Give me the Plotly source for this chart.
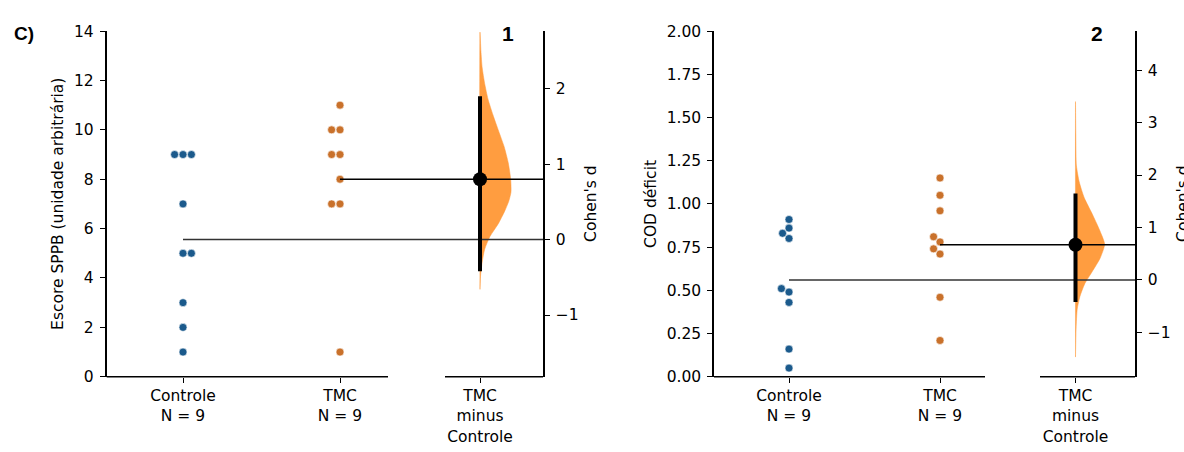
import math
import plotly.graph_objects as go

# ---------------- data ----------------
groups = ["Controle", "TMC"]
delta_label = "TMC<br>minus<br>Controle"

# Panel 1 : Escore SPPB
p1_control = [1, 2, 3, 5, 5, 7, 9, 9, 9]
p1_tmc = [1, 7, 7, 8, 9, 9, 10, 10, 11]
p1_d = 0.80
p1_ci = [-0.42, 1.90]
p1_violin_d = [2.75, 2.50, 2.28, 2.07, 1.86, 1.65, 1.44, 1.23, 1.02, 0.80,
               0.63, 0.51, 0.38, 0.21, 0.04, -0.13, -0.30, -0.47, -0.66]
p1_violin_dens = [0.0, 0.03, 0.07, 0.15, 0.26, 0.42, 0.60, 0.78, 0.91, 0.99,
                  1.0, 0.93, 0.80, 0.59, 0.32, 0.15, 0.07, 0.02, 0.0]
p1_yticks = [0, 2, 4, 6, 8, 10, 12, 14]
p1_dticks = [-1, 0, 1, 2]

# Panel 2 : COD deficit
p2_control = [0.05, 0.16, 0.43, 0.49, 0.51, 0.80, 0.83, 0.86, 0.91]
p2_tmc = [0.21, 0.46, 0.71, 0.74, 0.78, 0.81, 0.96, 1.05, 1.15]
p2_d = 0.67
p2_ci = [-0.42, 1.65]
p2_violin_d = [3.40, 2.79, 2.18, 1.87, 1.57, 1.27, 0.96, 0.68, 0.41, 0.17,
               -0.07, -0.32, -0.56, -0.92, -1.47]
p2_violin_dens = [0.0, 0.01, 0.03, 0.12, 0.28, 0.53, 0.77, 0.94, 0.79, 0.55,
                  0.30, 0.14, 0.055, 0.02, 0.0]
p2_yticks = [0.0, 0.25, 0.5, 0.75, 1.0, 1.25, 1.5, 1.75, 2.0]
p2_dticks = [-1, 0, 1, 2, 3, 4]

# ---------------- layout constants (page pixels) ----------------
FW, FH = 1184, 452
Y_TOP, Y_BOT = 23, 383
BLUE = "#1b5a8c"
ORANGE = "#c9712b"
VIOLIN = "rgb(255,157,64)"
FONT = "DejaVu Sans"
DOT = 8
SWARM_D = 8.4
VIOLIN_W = 31

panels = [
    dict(ctrl=p1_control, test=p1_tmc, d=p1_d, ci=p1_ci, vd=p1_violin_d, vw=p1_violin_dens,
         yticks=p1_yticks, dticks=p1_dticks, yrange=[0, 14], fmt="d",
         x0=106.5, x1=543, seg1=388, seg2=445, pos=[183, 340, 480],
         prefer=[1, -1], ytitle="Escore SPPB (unidade arbitrária)", ytitle_x=58,
         dtitle_x=591, label="1", label_x=508),
    dict(ctrl=p2_control, test=p2_tmc, d=p2_d, ci=p2_ci, vd=p2_violin_d, vw=p2_violin_dens,
         yticks=p2_yticks, dticks=p2_dticks, yrange=[0, 2], fmt=".2f",
         x0=714, x1=1135, seg1=985, seg2=1040, pos=[789, 940, 1075.5],
         prefer=[-1, -1], ytitle="COD déficit", ytitle_x=651,
         dtitle_x=1183, label="2", label_x=1097),
]


def swarm(values, px_per_unit, diam, prefer):
    order = sorted(range(len(values)), key=lambda i: values[i])
    placed = []
    offs = [0.0] * len(values)
    for i in order:
        y = values[i] * px_per_unit
        cands = [0.0]
        for ox, oy in placed:
            dy = y - oy
            if abs(dy) < diam:
                dx = math.sqrt(diam ** 2 - dy ** 2)
                cands += [ox + dx, ox - dx]
        cands.sort(key=lambda c: (round(abs(c), 4), 0 if c * prefer >= 0 else 1))
        for c in cands:
            if all(math.hypot(c - ox, y - oy) >= diam - 0.05 for ox, oy in placed):
                offs[i] = c
                placed.append((c, y))
                break
    return offs


def py(p):  # page pixel y (from top) -> paper fraction
    return (FH - p) / FH


def px(p):  # page pixel x -> paper fraction
    return p / FW


fig = go.Figure()
shapes = []
annotations = []
ydom = [py(Y_BOT), py(Y_TOP)]

for k, P in enumerate(panels):
    n = k + 1
    xa = "x" if n == 1 else "x2"
    ya = "y" if n == 1 else "y3"
    yd = "y2" if n == 1 else "y4"
    xkey = "xaxis" if n == 1 else "xaxis2"
    yakey = "yaxis" if n == 1 else "yaxis3"
    ydkey = "yaxis2" if n == 1 else "yaxis4"

    ctrl_mean = sum(P["ctrl"]) / len(P["ctrl"])
    test_mean = sum(P["test"]) / len(P["test"])
    scale = (test_mean - ctrl_mean) / P["d"]  # raw units per Cohen's d unit
    drange = [(P["yrange"][0] - ctrl_mean) / scale, (P["yrange"][1] - ctrl_mean) / scale]
    ppu = (Y_BOT - Y_TOP) / (P["yrange"][1] - P["yrange"][0])

    # raw swarm dots
    for vals, pos, col, pref in [(P["ctrl"], P["pos"][0], BLUE, P["prefer"][0]),
                                 (P["test"], P["pos"][1], ORANGE, P["prefer"][1])]:
        offs = swarm(vals, ppu, SWARM_D, pref)
        fig.add_trace(go.Scatter(x=[pos + o for o in offs], y=vals, mode="markers",
                                 xaxis=xa, yaxis=ya, showlegend=False, hoverinfo="skip",
                                 marker=dict(size=DOT, color=col, line=dict(width=0.6, color="white"))))

    # half violin (bootstrap distribution)
    cx = P["pos"][2]
    vx = [cx + VIOLIN_W * w for w in P["vw"]] + [cx, cx]
    vy = list(P["vd"]) + [P["vd"][-1], P["vd"][0]]
    fig.add_trace(go.Scatter(x=vx, y=vy, mode="lines", fill="toself", fillcolor=VIOLIN,
                             line=dict(color=VIOLIN, width=0.5, shape="spline", smoothing=0.6),
                             xaxis=xa, yaxis=yd, showlegend=False, hoverinfo="skip"))
    # mean reference lines (in Cohen's d units)
    fig.add_trace(go.Scatter(x=[P["pos"][0], P["x1"]], y=[0, 0], mode="lines",
                             line=dict(color="#333333", width=1.5), xaxis=xa, yaxis=yd,
                             showlegend=False, hoverinfo="skip"))
    fig.add_trace(go.Scatter(x=[P["pos"][1], P["x1"]], y=[(test_mean - ctrl_mean) / scale] * 2,
                             mode="lines", line=dict(color="black", width=1.5), xaxis=xa, yaxis=yd,
                             showlegend=False, hoverinfo="skip"))
    # CI + point estimate
    fig.add_trace(go.Scatter(x=[cx, cx], y=P["ci"], mode="lines", line=dict(color="black", width=4),
                             xaxis=xa, yaxis=yd, showlegend=False, hoverinfo="skip"))
    fig.add_trace(go.Scatter(x=[cx], y=[P["d"]], mode="markers", marker=dict(size=14, color="black"),
                             xaxis=xa, yaxis=yd, showlegend=False, hoverinfo="skip"))

    ticktext = [f"{g}<br>N = {len(v)}" for g, v in zip(groups, [P["ctrl"], P["test"]])] + [delta_label]
    axfont = dict(family=FONT, size=15.5, color="black")
    fig.update_layout(**{
        xkey: dict(domain=[px(P["x0"]), px(P["x1"])], range=[P["x0"], P["x1"]], anchor=ya,
                   showgrid=False, zeroline=False, showline=False, tickvals=P["pos"],
                   ticktext=ticktext, ticks="outside", ticklen=5, tickwidth=1.3,
                   tickcolor="black", tickfont=axfont, fixedrange=True),
        yakey: dict(domain=ydom, range=P["yrange"], anchor=xa, showgrid=False, zeroline=False,
                    showline=True, linecolor="black", linewidth=1.5, ticks="outside", ticklen=5,
                    tickwidth=1.3, tickcolor="black", tickvals=P["yticks"], tickformat=P["fmt"],
                    tickfont=axfont, ticklabelstandoff=3),
        ydkey: dict(domain=ydom, range=drange, anchor=xa, overlaying=ya, side="right",
                    showgrid=False, zeroline=False, showline=True, linecolor="black",
                    linewidth=1.5, ticks="outside", ticklen=5, tickwidth=1.3, tickcolor="black",
                    tickvals=P["dticks"], tickfont=axfont, ticklabelstandoff=3),
    })
    # x axis line segments (raw part and delta part)
    for a, b in [(P["x0"], P["seg1"]), (P["seg2"], P["x1"])]:
        shapes.append(dict(type="line", xref=xa, yref="paper", x0=a, x1=b, y0=ydom[0], y1=ydom[0],
                           line=dict(color="black", width=1.5)))
    annotations.append(dict(text=P["ytitle"], x=px(P["ytitle_x"]), y=py((Y_TOP + Y_BOT) / 2),
                            xref="paper", yref="paper", textangle=-90, showarrow=False,
                            font=dict(family=FONT, size=15.5, color="black"),
                            xanchor="center", yanchor="middle"))
    annotations.append(dict(text="Cohen's d", x=px(P["dtitle_x"]), y=py((Y_TOP + Y_BOT) / 2),
                            xref="paper", yref="paper", textangle=-90, showarrow=False,
                            font=dict(family=FONT, size=15.5, color="black"),
                            xanchor="center", yanchor="middle"))
    annotations.append(dict(text=f"<b>{P['label']}</b>", x=px(P["label_x"]), y=py(26),
                            xref="paper", yref="paper", showarrow=False,
                            font=dict(family="Liberation Sans", size=21, color="black"),
                            xanchor="center", yanchor="middle"))

annotations.append(dict(text="<b>C)</b>", x=px(24), y=py(26), xref="paper", yref="paper",
                        showarrow=False, font=dict(family="Liberation Sans", size=19, color="black"),
                        xanchor="center", yanchor="middle"))

fig.update_layout(width=FW, height=FH, margin=dict(l=0, r=0, t=0, b=0),
                  paper_bgcolor="white", plot_bgcolor="white",
                  shapes=shapes, annotations=annotations, showlegend=False)

# remove the default page margin so the figure fills the 1184x452 window exactly
fig.write_html("out.html", config={"displayModeBar": False},
               post_script="document.body.style.margin='0px';")
